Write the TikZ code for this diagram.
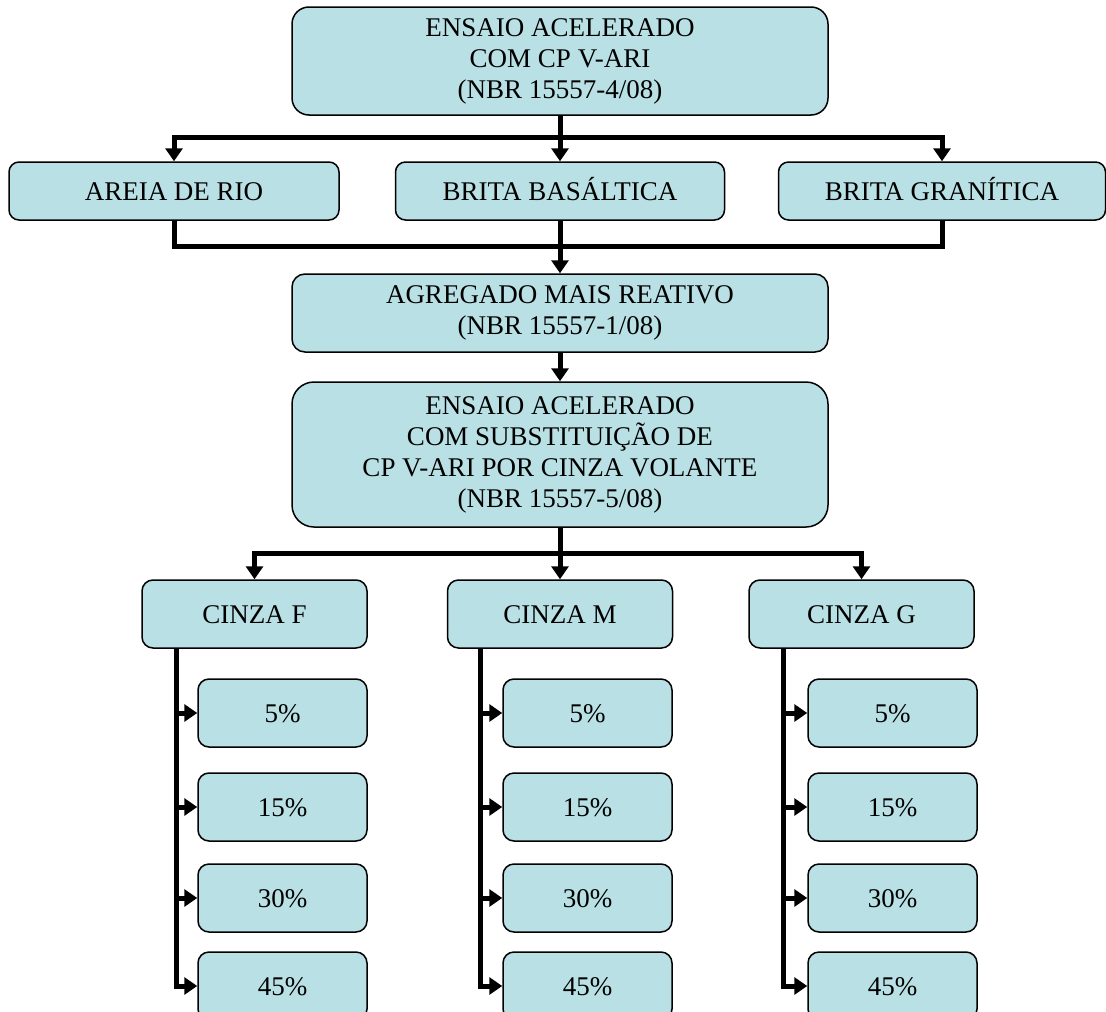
\documentclass[tikz,border=0pt]{standalone}
\usepackage{fontspec}
\setmainfont{Liberation Serif}
\usepackage{xcolor}
\usetikzlibrary{arrows.meta}
\definecolor{boxfill}{RGB}{185,224,228}

\begin{document}
\begin{tikzpicture}[x=1pt, y=-1pt,
        box/.style={draw=black, line width=1.5pt, fill=boxfill, align=center, inner sep=0pt,
            font=\fontsize{27}{31}\selectfont},
        oneline/.style={box, text height=20pt, text depth=2pt},
        wide/.style={box, minimum width=536pt},
        row/.style={oneline, minimum height=58pt, rounded corners=10pt},
        cinza/.style={oneline, minimum width=225pt, minimum height=68pt, rounded corners=11pt},
        teor/.style={oneline, minimum width=169pt, minimum height=68pt, rounded corners=11pt},
        link/.style={line width=5pt},
        arr/.style={line width=5pt, -{Triangle[length=13pt, width=17pt]}}]
        \clip (0, 0) rectangle (1106, 1012);

        \node[wide, minimum height=108pt, rounded corners=17pt] (ensaio) at (560, 61) {ENSAIO ACELERADO\\COM CP V-ARI\\(NBR 15557-4/08)};
        \node[row, minimum width=330pt] (areia) at (174, 191) {AREIA DE RIO};
        \node[row, minimum width=329pt] (basaltica) at (560, 191) {BRITA BASÁLTICA};
        \node[row, minimum width=327pt] (granitica) at (942, 191) {BRITA GRANÍTICA};
        \node[wide, minimum height=78pt, rounded corners=13pt] (agregado) at (560, 313) {AGREGADO MAIS REATIVO\\(NBR 15557-1/08)};
        \node[wide, minimum height=145pt, rounded corners=22pt] (substituicao) at (560, 454.5) {ENSAIO ACELERADO\\COM SUBSTITUIÇÃO DE\\CP V-ARI POR CINZA VOLANTE\\(NBR 15557-5/08)};

        \node[cinza] (cinzaF) at (254.5, 614) {CINZA F};
        \node[cinza] (cinzaM) at (560, 614) {CINZA M};
        \node[cinza] (cinzaG) at (861.5, 614) {CINZA G};

        \node[teor] (f5) at (282.5, 713) {5\%};
        \node[teor] (f15) at (282.5, 807) {15\%};
        \node[teor] (f30) at (282.5, 898) {30\%};
        \node[teor] (f45) at (282.5, 986) {45\%};
        \node[teor] (m5) at (587.5, 713) {5\%};
        \node[teor] (m15) at (587.5, 807) {15\%};
        \node[teor] (m30) at (587.5, 898) {30\%};
        \node[teor] (m45) at (587.5, 986) {45\%};
        \node[teor] (g5) at (892.5, 713) {5\%};
        \node[teor] (g15) at (892.5, 807) {15\%};
        \node[teor] (g30) at (892.5, 898) {30\%};
        \node[teor] (g45) at (892.5, 986) {45\%};

        \coordinate (split1) at (560, 137);
        \coordinate (merge) at (560, 246);
        \coordinate (split2) at (560, 553);
        \coordinate (stemF) at (176, 648);
        \coordinate (stemM) at (480, 648);
        \coordinate (stemG) at (783, 648);

        \draw[arr] (ensaio.south) -- (basaltica.north);
        \draw[arr] (split1) -| (areia.north);
        \draw[arr] (split1) -| (granitica.north);
        \draw[link] (areia.south) |- (merge) -| (granitica.south);
        \draw[link] (basaltica.south) -- (merge);
        \draw[arr] (merge) -- (agregado.north);
        \draw[arr] (agregado.south) -- (substituicao.north);
        \draw[arr] (substituicao.south) -- (cinzaM.north);
        \draw[arr] (split2) -| (cinzaF.north);
        \draw[arr] (split2) -| (cinzaG.north);

        \draw[arr] (stemF) |- (f45.west);
        \draw[arr] (stemF |- f5.west) -- (f5.west);
        \draw[arr] (stemF |- f15.west) -- (f15.west);
        \draw[arr] (stemF |- f30.west) -- (f30.west);
        \draw[arr] (stemM) |- (m45.west);
        \draw[arr] (stemM |- m5.west) -- (m5.west);
        \draw[arr] (stemM |- m15.west) -- (m15.west);
        \draw[arr] (stemM |- m30.west) -- (m30.west);
        \draw[arr] (stemG) |- (g45.west);
        \draw[arr] (stemG |- g5.west) -- (g5.west);
        \draw[arr] (stemG |- g15.west) -- (g15.west);
        \draw[arr] (stemG |- g30.west) -- (g30.west);
    \end{tikzpicture}
\end{document}
